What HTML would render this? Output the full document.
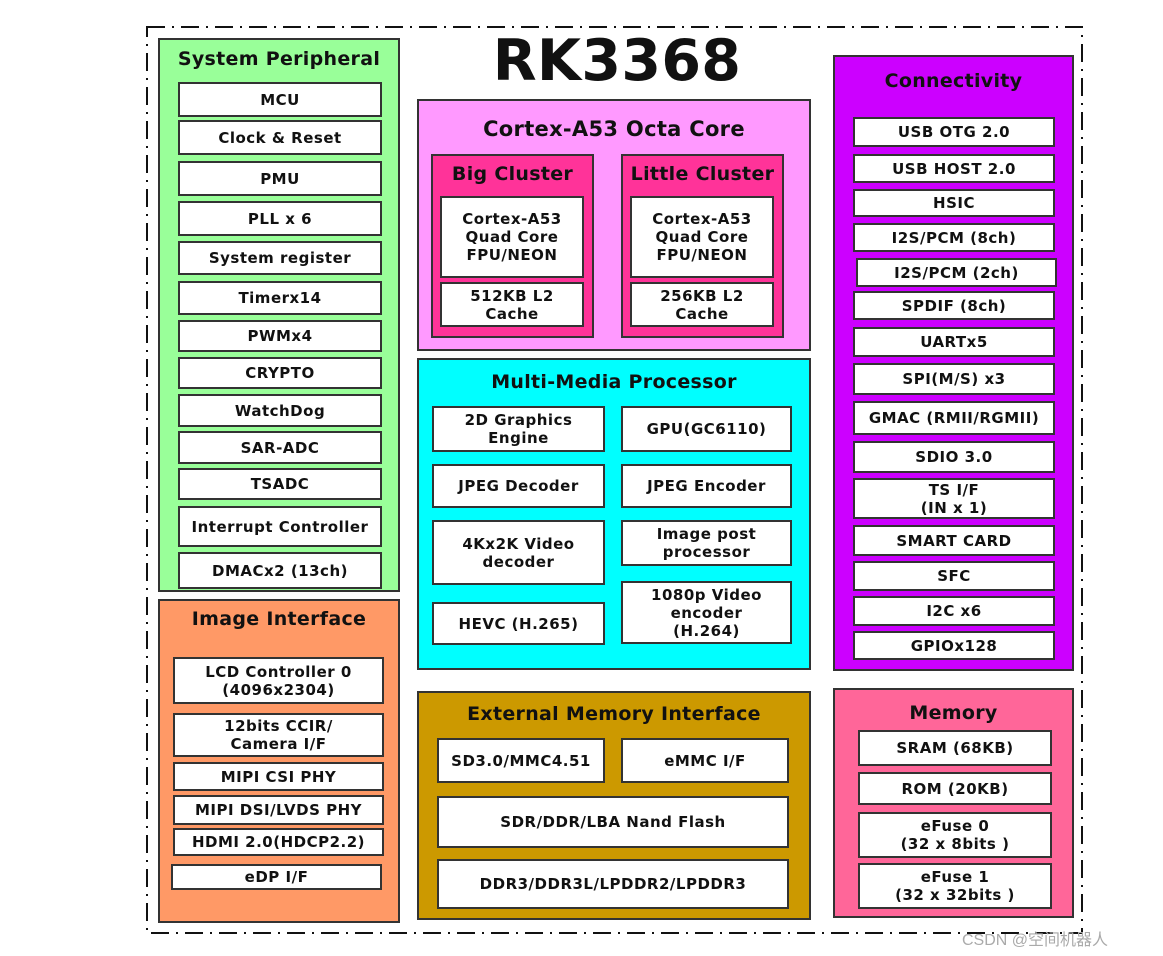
<!DOCTYPE html>
<html><head><meta charset="utf-8"><style>
body{margin:0;width:1163px;height:956px;background:#fff;position:relative;overflow:hidden;font-family:"DejaVu Sans","Liberation Sans",sans-serif;}
.b{position:absolute;box-sizing:border-box;border:2px solid #333;background:#fff;display:flex;align-items:center;justify-content:center;text-align:center;font-weight:bold;font-size:15px;line-height:18px;color:#111;letter-spacing:0.5px}
.g{position:absolute;box-sizing:border-box;border:2px solid #333}
.t{position:absolute;text-align:center;font-weight:bold;font-size:19px;color:#111;white-space:nowrap;letter-spacing:0.3px}
</style></head><body>
<svg style="position:absolute;left:0;top:0" width="1163" height="956"><rect x="147" y="27" width="935" height="906" fill="none" stroke="#111" stroke-width="2" stroke-dasharray="18,7,2,7"/></svg>
<div class="t" style="left:417px;top:28px;width:400px;font-size:57px;line-height:66px">RK3368</div>

<!-- System Peripheral -->
<div class="g" style="left:158px;top:38px;width:242px;height:554px;background:#99ff99"></div>
<div class="t" style="left:158px;top:48px;width:242px">System Peripheral</div>
<div class="b" style="left:178px;top:82px;width:204px;height:35px">MCU</div>
<div class="b" style="left:178px;top:120px;width:204px;height:35px">Clock &amp; Reset</div>
<div class="b" style="left:178px;top:161px;width:204px;height:35px">PMU</div>
<div class="b" style="left:178px;top:201px;width:204px;height:35px">PLL x 6</div>
<div class="b" style="left:178px;top:241px;width:204px;height:34px">System register</div>
<div class="b" style="left:178px;top:281px;width:204px;height:34px">Timerx14</div>
<div class="b" style="left:178px;top:320px;width:204px;height:32px">PWMx4</div>
<div class="b" style="left:178px;top:357px;width:204px;height:32px">CRYPTO</div>
<div class="b" style="left:178px;top:394px;width:204px;height:33px">WatchDog</div>
<div class="b" style="left:178px;top:431px;width:204px;height:33px">SAR-ADC</div>
<div class="b" style="left:178px;top:468px;width:204px;height:32px">TSADC</div>
<div class="b" style="left:178px;top:506px;width:204px;height:41px">Interrupt Controller</div>
<div class="b" style="left:178px;top:552px;width:204px;height:37px">DMACx2 (13ch)</div>

<!-- Image Interface -->
<div class="g" style="left:158px;top:599px;width:242px;height:324px;background:#ff9966"></div>
<div class="t" style="left:158px;top:608px;width:242px">Image Interface</div>
<div class="b" style="left:173px;top:657px;width:211px;height:47px">LCD Controller 0<br>(4096x2304)</div>
<div class="b" style="left:173px;top:713px;width:211px;height:44px">12bits CCIR/<br>Camera I/F</div>
<div class="b" style="left:173px;top:762px;width:211px;height:29px">MIPI CSI PHY</div>
<div class="b" style="left:173px;top:795px;width:211px;height:30px">MIPI DSI/LVDS PHY</div>
<div class="b" style="left:173px;top:828px;width:211px;height:28px">HDMI 2.0(HDCP2.2)</div>
<div class="b" style="left:171px;top:864px;width:211px;height:26px">eDP I/F</div>

<!-- Cortex -->
<div class="g" style="left:417px;top:99px;width:394px;height:252px;background:#ff99ff"></div>
<div class="t" style="left:417px;top:117px;width:394px;font-size:21px">Cortex-A53 Octa Core</div>
<div class="g" style="left:431px;top:154px;width:163px;height:184px;background:#ff3399"></div>
<div class="t" style="left:431px;top:163px;width:163px">Big Cluster</div>
<div class="b" style="left:440px;top:196px;width:144px;height:82px">Cortex-A53<br>Quad Core<br>FPU/NEON</div>
<div class="b" style="left:440px;top:282px;width:144px;height:45px">512KB L2<br>Cache</div>
<div class="g" style="left:621px;top:154px;width:163px;height:184px;background:#ff3399"></div>
<div class="t" style="left:621px;top:163px;width:163px">Little Cluster</div>
<div class="b" style="left:630px;top:196px;width:144px;height:82px">Cortex-A53<br>Quad Core<br>FPU/NEON</div>
<div class="b" style="left:630px;top:282px;width:144px;height:45px">256KB L2<br>Cache</div>

<!-- MMP -->
<div class="g" style="left:417px;top:358px;width:394px;height:312px;background:#00ffff"></div>
<div class="t" style="left:417px;top:371px;width:394px">Multi-Media Processor</div>
<div class="b" style="left:432px;top:406px;width:173px;height:46px">2D Graphics<br>Engine</div>
<div class="b" style="left:621px;top:406px;width:171px;height:46px">GPU(GC6110)</div>
<div class="b" style="left:432px;top:464px;width:173px;height:44px">JPEG Decoder</div>
<div class="b" style="left:621px;top:464px;width:171px;height:44px">JPEG Encoder</div>
<div class="b" style="left:432px;top:520px;width:173px;height:65px">4Kx2K Video<br>decoder</div>
<div class="b" style="left:621px;top:520px;width:171px;height:46px">Image post<br>processor</div>
<div class="b" style="left:432px;top:602px;width:173px;height:43px">HEVC (H.265)</div>
<div class="b" style="left:621px;top:581px;width:171px;height:63px">1080p Video<br>encoder<br>(H.264)</div>

<!-- EMI -->
<div class="g" style="left:417px;top:691px;width:394px;height:229px;background:#cc9900"></div>
<div class="t" style="left:417px;top:703px;width:394px">External Memory Interface</div>
<div class="b" style="left:437px;top:738px;width:168px;height:45px">SD3.0/MMC4.51</div>
<div class="b" style="left:621px;top:738px;width:168px;height:45px">eMMC I/F</div>
<div class="b" style="left:437px;top:796px;width:352px;height:52px">SDR/DDR/LBA Nand Flash</div>
<div class="b" style="left:437px;top:859px;width:352px;height:50px">DDR3/DDR3L/LPDDR2/LPDDR3</div>

<!-- Connectivity -->
<div class="g" style="left:833px;top:55px;width:241px;height:616px;background:#cc00ff"></div>
<div class="t" style="left:833px;top:70px;width:241px">Connectivity</div>
<div class="b" style="left:853px;top:117px;width:202px;height:30px">USB OTG 2.0</div>
<div class="b" style="left:853px;top:154px;width:202px;height:29px">USB HOST 2.0</div>
<div class="b" style="left:853px;top:189px;width:202px;height:28px">HSIC</div>
<div class="b" style="left:853px;top:223px;width:202px;height:29px">I2S/PCM (8ch)</div>
<div class="b" style="left:856px;top:258px;width:201px;height:29px">I2S/PCM (2ch)</div>
<div class="b" style="left:853px;top:291px;width:202px;height:29px">SPDIF (8ch)</div>
<div class="b" style="left:853px;top:327px;width:202px;height:30px">UARTx5</div>
<div class="b" style="left:853px;top:363px;width:202px;height:32px">SPI(M/S) x3</div>
<div class="b" style="left:853px;top:401px;width:202px;height:34px">GMAC (RMII/RGMII)</div>
<div class="b" style="left:853px;top:441px;width:202px;height:32px">SDIO 3.0</div>
<div class="b" style="left:853px;top:478px;width:202px;height:41px">TS I/F<br>(IN x 1)</div>
<div class="b" style="left:853px;top:525px;width:202px;height:31px">SMART CARD</div>
<div class="b" style="left:853px;top:561px;width:202px;height:30px">SFC</div>
<div class="b" style="left:853px;top:596px;width:202px;height:30px">I2C x6</div>
<div class="b" style="left:853px;top:631px;width:202px;height:29px">GPIOx128</div>

<!-- Memory -->
<div class="g" style="left:833px;top:688px;width:241px;height:230px;background:#ff6699"></div>
<div class="t" style="left:833px;top:702px;width:241px">Memory</div>
<div class="b" style="left:858px;top:730px;width:194px;height:36px">SRAM (68KB)</div>
<div class="b" style="left:858px;top:772px;width:194px;height:33px">ROM (20KB)</div>
<div class="b" style="left:858px;top:812px;width:194px;height:46px">eFuse 0<br>(32 x 8bits )</div>
<div class="b" style="left:858px;top:863px;width:194px;height:46px">eFuse 1<br>(32 x 32bits )</div>

<div style="position:absolute;left:962px;top:926px;font-size:16px;color:#aaa;font-family:'Liberation Sans','Noto Sans CJK SC',sans-serif">CSDN @空间机器人</div>
</body></html>
